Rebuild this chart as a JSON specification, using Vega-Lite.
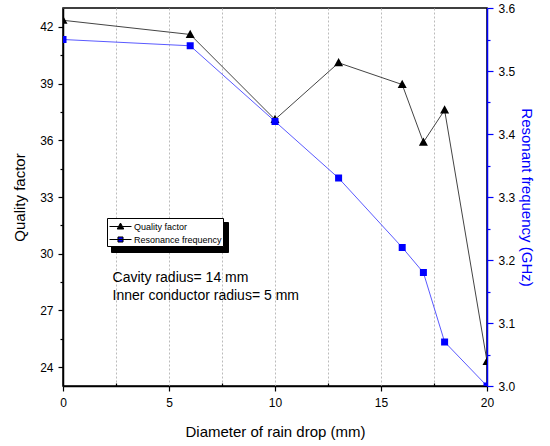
{
  "$schema": "https://vega.github.io/schema/vega-lite/v6.json",
  "width": 424,
  "height": 378,
  "autosize": {"type": "none"},
  "padding": {"left": 63, "top": 8, "right": 63, "bottom": 60},
  "background": "white",
  "config": {
    "font": "Liberation Sans",
    "view": {"stroke": "black", "strokeWidth": 1.5},
    "axis": {
      "labelFont": "Liberation Sans",
      "titleFont": "Liberation Sans",
      "labelFontSize": 12,
      "titleFontSize": 15,
      "titleFontWeight": "normal",
      "labelColor": "black",
      "titleColor": "black",
      "domainColor": "black",
      "tickColor": "black",
      "domainWidth": 1.5,
      "tickWidth": 1.2,
      "grid": false
    }
  },
  "data": {
    "values": [
      {"d": 0, "q": 42.35, "f": 3.55},
      {"d": 6, "q": 41.6, "f": 3.54},
      {"d": 10, "q": 37.1, "f": 3.42},
      {"d": 13, "q": 40.1, "f": 3.33},
      {"d": 16, "q": 38.95, "f": 3.22},
      {"d": 17, "q": 35.9, "f": 3.18},
      {"d": 18, "q": 37.6, "f": 3.07},
      {"d": 20, "q": 24.3, "f": 3.0}
    ]
  },
  "encoding": {
    "x": {
      "field": "d",
      "type": "quantitative",
      "scale": {"domain": [0, 20], "nice": false, "zero": false},
      "axis": {
        "title": "Diameter of rain drop (mm)",
        "values": [0, 2.5, 5, 7.5, 10, 12.5, 15, 17.5, 20],
        "labelExpr": "datum.value % 5 === 0 ? datum.label : ''",
        "tickSize": {"condition": {"test": "datum.value % 5 === 0", "value": 5}, "value": -3},
        "labelPadding": 6,
        "titlePadding": 16,
        "grid": true,
        "gridDash": [2, 2],
        "gridColor": "#bbbbbb",
        "gridWidth": 1,
        "labelFlush": false
      }
    }
  },
  "layer": [
    {
      "encoding": {
        "y": {
          "field": "q",
          "type": "quantitative",
          "scale": {"domain": [23, 43], "nice": false, "zero": false},
          "axis": {
            "title": "Quality factor",
            "orient": "left",
            "values": [24, 25.5, 27, 28.5, 30, 31.5, 33, 34.5, 36, 37.5, 39, 40.5, 42],
            "labelExpr": "datum.value % 3 === 0 ? datum.label : ''",
            "tickSize": {"condition": {"test": "datum.value % 3 === 0", "value": 5}, "value": 3},
            "labelPadding": 5,
            "titlePadding": 12,
            "grid": false
          }
        }
      },
      "layer": [
        {"mark": {"type": "line", "color": "#444444", "strokeWidth": 1, "clip": true}},
        {
          "mark": {"type": "point", "filled": true, "size": 368, "opacity": 1, "clip": true},
          "encoding": {
            "color": {
              "datum": "Quality factor",
              "type": "nominal",
              "scale": {"domain": ["Quality factor", "Resonance frequency"], "range": ["black", "blue"]},
              "legend": {
                "orient": "none",
                "legendX": 44,
                "legendY": 210,
                "zindex": 2,
                "title": null,
                "strokeColor": "black",
                "fillColor": "white",
                "padding": 1,
                "labelFontSize": 9,
                "labelFont": "Liberation Sans",
                "symbolSize": 196,
                "symbolOffset": 5,
                "symbolStrokeColor": "black",
                "symbolStrokeWidth": 1,
                "rowPadding": 0,
                "labelOffset": 6,
                "encode": {
                  "symbols": {
                    "stroke": {"condition": {"test": "datum.value === 'Quality factor'", "value": "black"}, "value": "#5a5aff"}
                  }
                }
              }
            },
            "shape": {
              "datum": "Quality factor",
              "type": "nominal",
              "scale": {
                "domain": ["Quality factor", "Resonance frequency"],
                "range": ["M-1.57,0H1.57M0,-0.5L0.47,0.36L-0.47,0.36Z", "M-1.57,0H1.57M-0.36,-0.36H0.36V0.36H-0.36Z"]
              },
              "legend": {
                "orient": "none",
                "legendX": 44,
                "legendY": 210,
                "zindex": 2,
                "title": null,
                "strokeColor": "black",
                "fillColor": "white",
                "padding": 1,
                "labelFontSize": 9,
                "labelFont": "Liberation Sans",
                "symbolSize": 196,
                "symbolOffset": 5,
                "symbolStrokeColor": "black",
                "symbolStrokeWidth": 1,
                "rowPadding": 0,
                "labelOffset": 6,
                "encode": {
                  "symbols": {
                    "stroke": {"condition": {"test": "datum.value === 'Quality factor'", "value": "black"}, "value": "#5a5aff"}
                  }
                }
              }
            },
            "strokeDash": {
              "datum": "Quality factor\u200b",
              "type": "nominal",
              "scale": {"domain": ["Quality factor\u200b", "Resonance frequency\u200b"], "range": [[1, 0], [1, 0]]},
              "legend": {
                "orient": "none",
                "legendX": 48,
                "legendY": 214,
                "zindex": 1,
                "title": null,
                "strokeColor": "black",
                "fillColor": "black",
                "padding": 1,
                "labelFontSize": 9,
                "labelFont": "Liberation Sans",
                "labelColor": "black",
                "labelExpr": "''",
                "symbolType": "M-1.57,0H1.57M0,-0.5L0.47,0.36L-0.47,0.36Z",
                "symbolFillColor": "black",
                "symbolStrokeColor": "black",
                "symbolSize": 196,
                "symbolOffset": 5,
                "rowPadding": 0,
                "labelOffset": 94
              }
            }
          }
        },
        {
          "data": {
            "values": [
              {"d": 2.34, "q": 28.73, "label": "Cavity radius= 14 mm"},
              {"d": 2.34, "q": 27.78, "label": "Inner conductor radius= 5 mm"}
            ]
          },
          "mark": {"type": "text", "align": "left", "baseline": "middle", "fontSize": 14, "color": "black", "font": "Liberation Sans"},
          "encoding": {"text": {"field": "label"}}
        }
      ]
    },
    {
      "encoding": {
        "y": {
          "field": "f",
          "type": "quantitative",
          "scale": {"domain": [3.0, 3.6], "nice": false, "zero": false},
          "axis": {
            "title": "Resonant frequency (GHz)",
            "orient": "right",
            "values": [3.0, 3.05, 3.1, 3.15, 3.2, 3.25, 3.3, 3.35, 3.4, 3.45, 3.5, 3.55, 3.6],
            "labelExpr": "abs(datum.value * 10 - round(datum.value * 10)) < 0.01 ? format(datum.value, '.1f') : ''",
            "tickSize": {"condition": {"test": "abs(datum.value * 10 - round(datum.value * 10)) < 0.01", "value": 6}, "value": 3},
            "domainColor": "blue",
            "tickColor": "blue",
            "titleColor": "blue",
            "titleAngle": 90,
            "labelPadding": 5,
            "titlePadding": 4,
            "grid": false
          }
        }
      },
      "layer": [
        {"mark": {"type": "line", "color": "#5a5aff", "strokeWidth": 1, "clip": true}},
        {
          "mark": {"type": "point", "filled": true, "size": 378, "opacity": 1, "clip": true},
          "encoding": {
            "color": {"datum": "Resonance frequency", "type": "nominal"},
            "shape": {"datum": "Resonance frequency", "type": "nominal"},
            "strokeDash": {"datum": "Resonance frequency\u200b", "type": "nominal"}
          }
        }
      ]
    }
  ],
  "resolve": {"scale": {"y": "independent"}}
}
